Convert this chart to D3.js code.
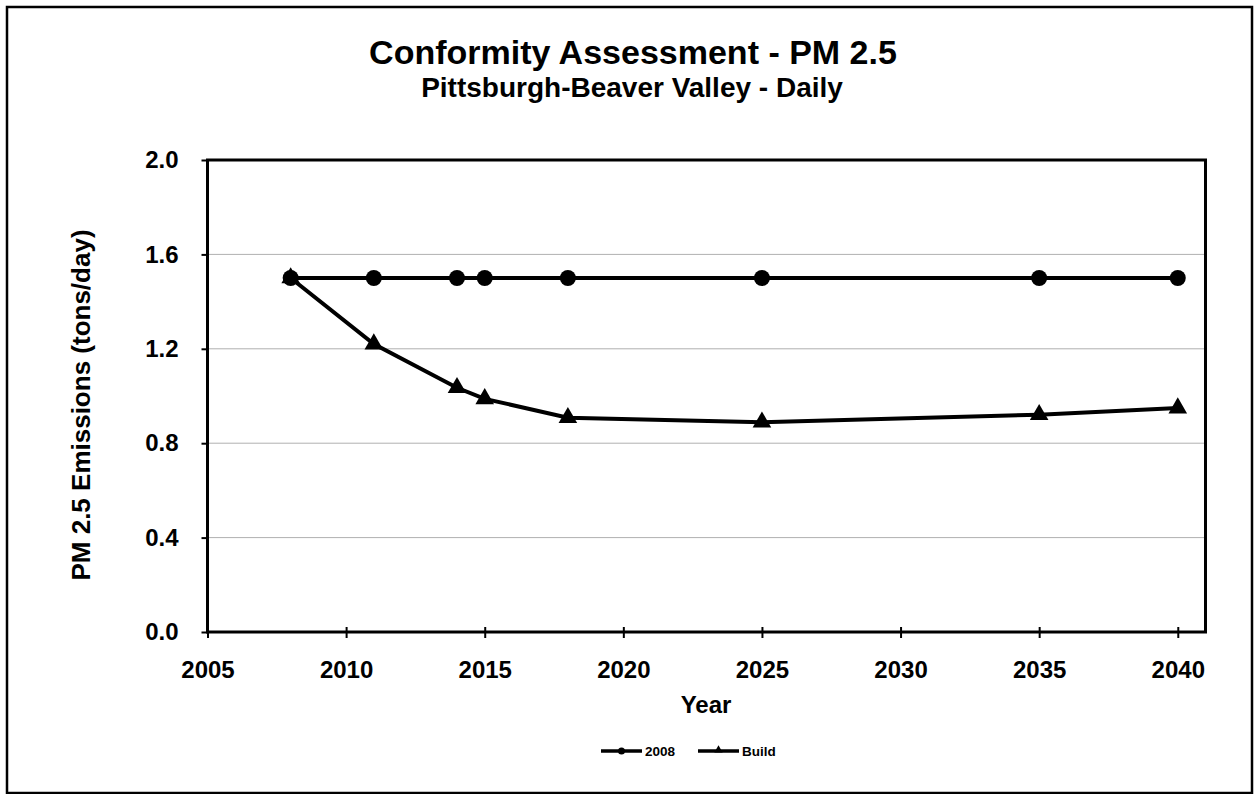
<!DOCTYPE html>
<html><head><meta charset="utf-8">
<script src="https://cdn.jsdelivr.net/npm/d3@7"></script>
<style>body{margin:0;background:#fff}svg{display:block}text{font-family:"Liberation Sans",Arial,sans-serif;font-weight:bold;fill:#000}</style>
</head><body><svg id="c" width="1254" height="794"></svg>
<script>
const years = [2008, 2011, 2014, 2015, 2018, 2025, 2035, 2040];
const base2008 = [1.5, 1.5, 1.5, 1.5, 1.5, 1.5, 1.5, 1.5];
const build = [1.5, 1.22, 1.035, 0.988, 0.908, 0.889, 0.921, 0.949];
const xTicks = [2005, 2010, 2015, 2020, 2025, 2030, 2035, 2040];
const yTicks = [0, 0.4, 0.8, 1.2, 1.6, 2.0];
const seriesNames = ["2008", "Build"];

const svg = d3.select("#c");
svg.append("rect").attr("x",7).attr("y",7).attr("width",1245).attr("height",786)
  .attr("fill","#fff").attr("stroke","#000").attr("stroke-width",2.5);

const L=207.5, R=1205.5, T=160, B=632;
const x = d3.scaleLinear().domain([2005, 2041]).range([L, R]);
const y = d3.scaleLinear().domain([0, 2]).range([B, T]);

// gridlines
svg.append("g").selectAll("line").data(yTicks.filter(d=>d>0 && d<2)).join("line")
  .attr("x1",L).attr("x2",R).attr("y1",d=>y(d)).attr("y2",d=>y(d))
  .attr("stroke","#b0b0b0").attr("stroke-width",1);

// axes
const yAxis = svg.append("g").attr("transform",`translate(${L},0)`)
  .call(d3.axisLeft(y).tickValues(yTicks).tickFormat(d3.format(".1f")).tickSize(6).tickPadding(23));
yAxis.select(".domain").remove();
yAxis.selectAll("line").attr("stroke","#000").attr("stroke-width",2);
yAxis.selectAll("text").style("font-size","24px");

const xAxis = svg.append("g").attr("transform",`translate(0,${B})`)
  .call(d3.axisBottom(x).tickValues(xTicks).tickFormat(d3.format("d")).tickSize(6).tickPadding(23));
xAxis.select(".domain").remove();
xAxis.selectAll(".tick line").attr("y1",-5).attr("y2",6).attr("stroke","#000").attr("stroke-width",2);
xAxis.selectAll("text").style("font-size","24px");

// frame
svg.append("rect").attr("x",L).attr("y",T).attr("width",R-L).attr("height",B-T)
  .attr("fill","none").attr("stroke","#000").attr("stroke-width",3);

const line = d3.line().x(d=>x(d[0])).y(d=>y(d[1]));
const d2008 = years.map((yr,i)=>[yr, base2008[i]]);
const dBuild = years.map((yr,i)=>[yr, build[i]]);

svg.append("path").datum(dBuild).attr("d",line).attr("fill","none").attr("stroke","#000").attr("stroke-width",4);
const tri = d3.symbol().type(d3.symbolTriangle).size(150);
svg.append("g").selectAll("path").data(dBuild).join("path")
  .attr("d",tri).attr("transform",d=>`translate(${x(d[0])},${y(d[1])})`).attr("fill","#000");
svg.append("path").datum(d2008).attr("d",line).attr("fill","none").attr("stroke","#000").attr("stroke-width",4);
svg.append("g").selectAll("circle").data(d2008).join("circle")
  .attr("cx",d=>x(d[0])).attr("cy",d=>y(d[1])).attr("r",8).attr("fill","#000");

// titles
svg.append("text").attr("x",633).attr("y",64).attr("text-anchor","middle").style("font-size","34px").text("Conformity Assessment - PM 2.5");
svg.append("text").attr("x",632).attr("y",97).attr("text-anchor","middle").style("font-size","28px").text("Pittsburgh-Beaver Valley - Daily");
svg.append("text").attr("x",706).attr("y",713).attr("text-anchor","middle").style("font-size","24px").text("Year");
svg.append("text").attr("transform","translate(90,405) rotate(-90)").attr("text-anchor","middle").style("font-size","26px").text("PM 2.5 Emissions (tons/day)");

// legend
const lg = svg.append("g");
const items = [{n:seriesNames[0], x0:601, sym:"c"},{n:seriesNames[1], x0:698, sym:"t"}];
items.forEach(it=>{
  lg.append("line").attr("x1",it.x0).attr("x2",it.x0+41).attr("y1",751).attr("y2",751).attr("stroke","#000").attr("stroke-width",3.5);
  if(it.sym==="c") lg.append("circle").attr("cx",it.x0+20.5).attr("cy",751).attr("r",3.5).attr("fill","#000");
  else lg.append("path").attr("d",d3.symbol().type(d3.symbolTriangle).size(30)).attr("transform",`translate(${it.x0+20.5},750)`).attr("fill","#000");
  lg.append("text").attr("x",it.x0+44).attr("y",755.5).style("font-size","13.5px").text(it.n);
});
</script></body></html>
